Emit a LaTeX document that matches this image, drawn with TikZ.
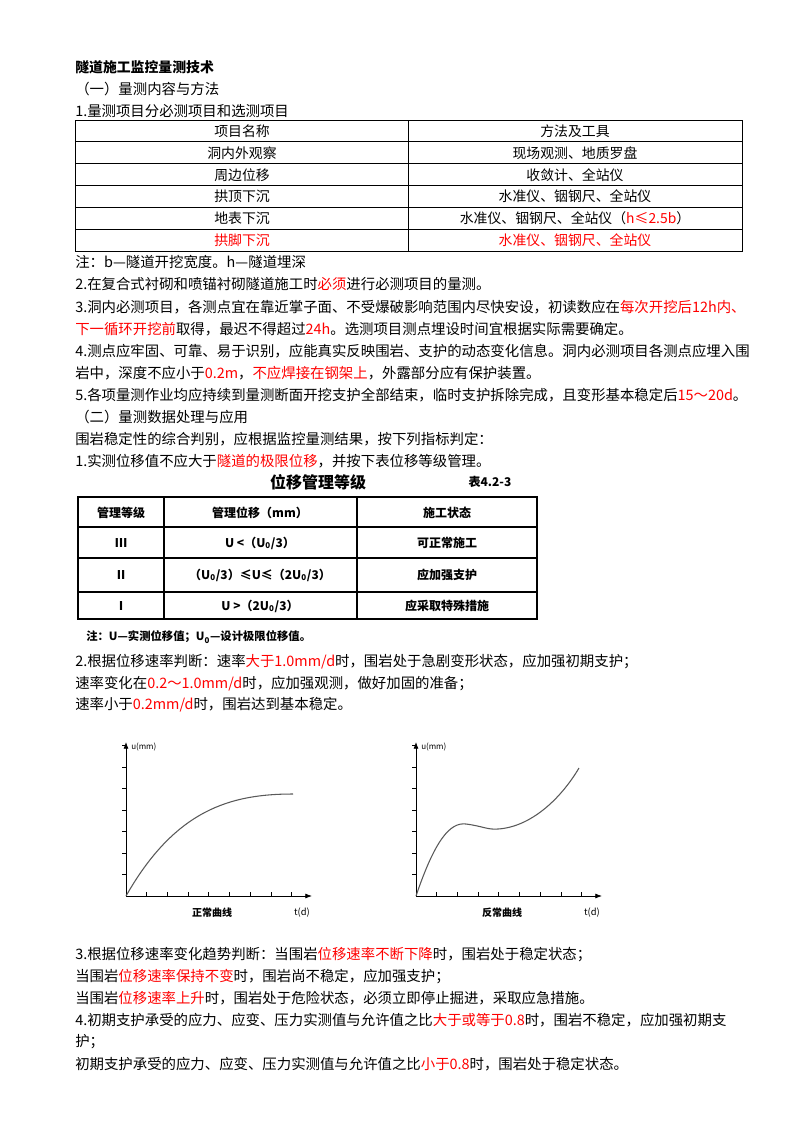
\documentclass[tikz,border=0pt]{standalone}
\usepackage{fontspec}
\setmainfont{Noto Sans CJK SC}
\newfontfamily\cjk{Noto Sans CJK SC}
\usetikzlibrary{arrows.meta}
\tikzset{txt/.style={anchor=west,inner sep=0pt,font=\fontsize{10.8}{12}\selectfont},
ctr/.style={inner sep=0pt,font=\fontsize{10.4}{12}\selectfont},
tb/.style={inner sep=0pt,font=\fontsize{9}{11}\selectfont\bfseries},
axis/.style={line width=0.6pt,-{Latex[length=5pt]}}}
\newcommand{\R}[1]{\textcolor{red}{#1}}
\begin{document}
\begin{tikzpicture}[x=0.75pt,y=-0.75pt]
\useasboundingbox (0,0) rectangle (800,1132);
\node[txt,font=\fontsize{10.4}{11}\selectfont\bfseries] (t0) at (75,67) {隧道施工监控量测技术};
\node[txt] (t1) at (75,89) {（一）量测内容与方法};
\node[txt] (t2) at (75,111) {1.量测项目分必测项目和选测项目};
% table 1
\draw[line width=0.5pt] (75,120) rectangle (742,251);
\foreach \y in {141.8,163.6,185.4,207.2,229} \draw[line width=0.5pt] (75,\y) -- (742,\y);
\draw[line width=0.5pt] (408,120) -- (408,251);
\node[ctr] (a1) at (242,131) {项目名称}; \node[ctr] (b1) at (575,131) {方法及工具};
\node[ctr] (a2) at (242,153) {洞内外观察}; \node[ctr] (b2) at (575,153) {现场观测、地质罗盘};
\node[ctr] (a3) at (242,175) {周边位移}; \node[ctr] (b3) at (575,175) {收敛计、全站仪};
\node[ctr] (a4) at (242,196) {拱顶下沉}; \node[ctr] (b4) at (575,196) {水准仪、铟钢尺、全站仪};
\node[ctr] (a5) at (242,218) {地表下沉}; \node[ctr] (b5) at (575,218) {水准仪、铟钢尺、全站仪（\R{h≤2.5b}）};
\node[ctr] (a6) at (242,240) {\R{拱脚下沉}}; \node[ctr] (b6) at (575,240) {\R{水准仪、铟钢尺、全站仪}};
\node[txt] (n1) at (75,262) {注：b—隧道开挖宽度。h—隧道埋深};
\node[txt] (p2) at (75,284) {2.在复合式衬砌和喷锚衬砌隧道施工时\R{必须}进行必测项目的量测。};
\node[txt] (p3) at (75,307) {3.洞内必测项目，各测点宜在靠近掌子面、不受爆破影响范围内尽快安设，初读数应在\R{每次开挖后12h内、}};
\node[txt] (p3b) at (75,329) {\R{下一循环开挖前}取得，最迟不得超过\R{24h}。选测项目测点埋设时间宜根据实际需要确定。};
\node[txt] (p4) at (75,351) {4.测点应牢固、可靠、易于识别，应能真实反映围岩、支护的动态变化信息。洞内必测项目各测点应埋入围};
\node[txt] (p4b) at (75,373) {岩中，深度不应小于\R{0.2m}，\R{不应焊接在钢架上}，外露部分应有保护装置。};
\node[txt] (p5) at (75,395) {5.各项量测作业均应持续到量测断面开挖支护全部结束，临时支护拆除完成，且变形基本稳定后\R{15～20d}。};
\node[txt] (t3) at (75,417) {（二）量测数据处理与应用};
\node[txt] (q0) at (75,439) {围岩稳定性的综合判别，应根据监控量测结果，按下列指标判定：};
\node[txt] (q1) at (75,461) {1.实测位移值不应大于\R{隧道的极限位移}，并按下表位移等级管理。};
% table 2
\node[inner sep=0pt,font=\fontsize{12}{14}\selectfont\bfseries] (tt) at (318,482) {位移管理等级};
\node[inner sep=0pt,font=\fontsize{9}{11}\selectfont\bfseries] (tn) at (490,482) {表4.2-3};
\draw[line width=1pt] (78,497) rectangle (537,619);
\foreach \y in {527,558,592} \draw[line width=0.8pt] (78,\y) -- (537,\y);
\draw[line width=0.8pt] (164,497) -- (164,619) (357,497) -- (357,619);
\node[tb] (c1) at (121,513) {管理等级}; \node[tb] (d1) at (260,513) {管理位移（mm）}; \node[tb] (e1) at (447,513) {施工状态};
\node[tb] (c2) at (121,543) {Ⅲ}; \node[tb] (d2) at (260,543) {U <（U\textsubscript{0}/3）}; \node[tb] (e2) at (447,543) {可正常施工};
\node[tb] (c3) at (121,575) {Ⅱ}; \node[tb] (d3) at (260,575) {（U\textsubscript{0}/3）≤U≤（2U\textsubscript{0}/3）}; \node[tb] (e3) at (447,575) {应加强支护};
\node[tb] (c4) at (121,606) {Ⅰ}; \node[tb] (d4) at (260,606) {U >（2U\textsubscript{0}/3）}; \node[tb] (e4) at (447,606) {应采取特殊措施};
\node[txt,font=\fontsize{8.5}{10}\selectfont\bfseries] (n2) at (86,637) {注：U—实测位移值；U\textsubscript{0}—设计极限位移值。};
\node[txt] (r1) at (75,662) {2.根据位移速率判断：速率\R{大于1.0mm/d}时，围岩处于急剧变形状态，应加强初期支护；};
\node[txt] (r2) at (75,684) {速率变化在\R{0.2～1.0mm/d}时，应加强观测，做好加固的准备；};
\node[txt] (r3) at (75,705) {速率小于\R{0.2mm/d}时，围岩达到基本稳定。};
% graphs
\foreach \ox/\lab in {126/正常曲线,416/反常曲线}{
  \draw[axis] (\ox,896) -- (\ox,742);
  \draw[axis] (\ox,896) -- (\ox+186,896);
  \foreach \i in {1,...,8} \draw[line width=0.5pt] (\ox+20.7*\i,896) -- (\ox+20.7*\i,892);
  \foreach \i in {1,...,7} \draw[line width=0.5pt] (\ox,896-21.5*\i) -- (\ox-4,896-21.5*\i);
  \node[inner sep=0pt,anchor=west,font=\fontsize{6}{7}\selectfont] at (\ox+5,747) {u(mm)};
  \node[inner sep=0pt,font=\fontsize{7.5}{9}\selectfont\bfseries] at (\ox+86,913) {\lab};
  \node[inner sep=0pt,font=\fontsize{7}{9}\selectfont] at (\ox+176,913) {t(d)};
}
\draw[line width=0.8pt,gray!70!black] (126,896) .. controls (175,810) and (230,794) .. (293,794);
\draw[line width=0.8pt,gray!70!black] (416,896) .. controls (435,840) and (450,822) .. (466,824) .. controls (482,826) and (488,830) .. (498,829) .. controls (530,827) and (560,800) .. (579,768);
\node[txt] (s1) at (75,955) {3.根据位移速率变化趋势判断：当围岩\R{位移速率不断下降}时，围岩处于稳定状态；};
\node[txt] (s2) at (75,977) {当围岩\R{位移速率保持不变}时，围岩尚不稳定，应加强支护；};
\node[txt] (s3) at (75,998) {当围岩\R{位移速率上升}时，围岩处于危险状态，必须立即停止掘进，采取应急措施。};
\node[txt] (s4) at (75,1020) {4.初期支护承受的应力、应变、压力实测值与允许值之比\R{大于或等于0.8}时，围岩不稳定，应加强初期支};
\node[txt] (s4b) at (75,1042) {护；};
\node[txt] (s5) at (75,1064) {初期支护承受的应力、应变、压力实测值与允许值之比\R{小于0.8}时，围岩处于稳定状态。};
\end{tikzpicture}
\end{document}
